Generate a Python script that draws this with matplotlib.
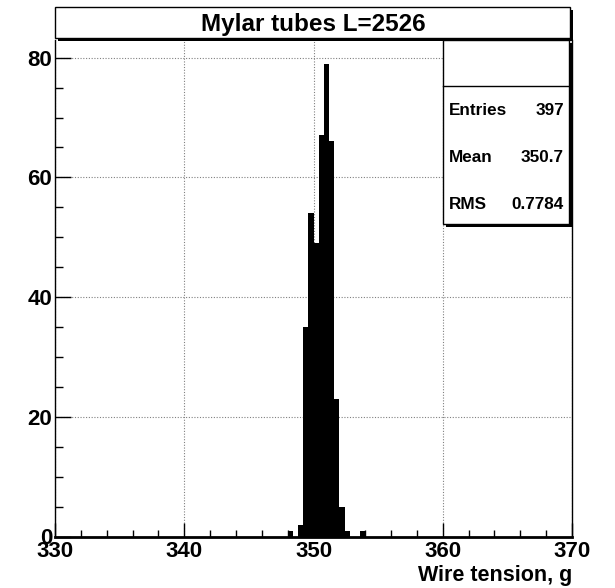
import matplotlib.pyplot as plt
from matplotlib.patches import Rectangle
from matplotlib.ticker import MultipleLocator

plt.rcParams['font.family'] = ['Liberation Sans', 'DejaVu Sans']
plt.rcParams['font.weight'] = 'bold'

# histogram contents (non-empty bins), bin width 0.4 g
bin_low = [348.0, 348.8, 349.2, 349.6, 350.0, 350.4, 350.8, 351.2, 351.6, 352.0, 352.4, 353.6]
counts = [1, 2, 35, 54, 49, 67, 79, 66, 23, 5, 1, 1]
bin_width = 0.4

title = "Mylar tubes L=2526"
xlabel = "Wire tension, g"
stats_names = ["Entries", "Mean", "RMS"]
stats_values = ["397", "350.7", "0.7784"]

W, H = 615, 588
fig = plt.figure(figsize=(W / 100, H / 100), dpi=100)
fig.patch.set_facecolor('white')


def fx(px):
    return px / W


def fy(py):
    return 1 - py / H


# plot area
ax = fig.add_axes([fx(55), fy(536.5), fx(572) - fx(55), fy(40) - fy(536.5)])
ax.bar(bin_low, counts, width=bin_width, align='edge', color='black', linewidth=0)
ax.set_xlim(330, 370)
ax.set_ylim(0, max(counts) * 1.05)

ax.xaxis.set_major_locator(MultipleLocator(10))
ax.xaxis.set_minor_locator(MultipleLocator(2))
ax.yaxis.set_major_locator(MultipleLocator(20))
ax.yaxis.set_minor_locator(MultipleLocator(5))
ax.tick_params(axis='x', which='major', direction='in', length=10, width=1, labelsize=16, pad=3)
ax.tick_params(axis='x', which='minor', direction='in', length=5, width=1)
ax.tick_params(axis='y', which='major', direction='in', length=11.5, width=1, labelsize=16, pad=2)
ax.tick_params(axis='y', which='minor', direction='in', length=5.5, width=1)

ax.grid(True, which='major', color='#808080', linewidth=0.8, linestyle=(0, (1, 1.5)))
ax.set_axisbelow(True)

ax.spines['top'].set_visible(False)
ax.spines['left'].set_linewidth(1)
ax.spines['bottom'].set_linewidth(2)
ax.spines['right'].set_linewidth(1)

ax.set_xlabel(xlabel, fontsize=15.5, fontweight='bold', ha='right', va='baseline')
ax.xaxis.set_label_coords(1.0, -45 / 496.5)


def box(x0, y0, x1, y1, shadow=3):
    fig.patches.append(Rectangle((fx(x0 + shadow), fy(y1 + shadow)), fx(x1) - fx(x0), fy(y0) - fy(y1),
                                 transform=fig.transFigure, facecolor='black', edgecolor='black',
                                 linewidth=0, zorder=5))
    fig.patches.append(Rectangle((fx(x0), fy(y1)), fx(x1) - fx(x0), fy(y0) - fy(y1),
                                 transform=fig.transFigure, facecolor='white', edgecolor='black',
                                 linewidth=1, zorder=6))


# title box
box(55, 7, 570, 38)
fig.text(fx(313), fy(30.7), title, ha='center', va='baseline', fontsize=17.5, zorder=7)

# stats box
box(443, 40, 569, 224)
fig.add_artist(plt.Line2D([fx(443), fx(569)], [fy(86), fy(86)], color='black', linewidth=1, zorder=7))
for i, (name, val) in enumerate(zip(stats_names, stats_values)):
    yb = 115.3 + i * 47
    fig.text(fx(449), fy(yb), name, ha='left', va='baseline', fontsize=12.3, zorder=7)
    fig.text(fx(564), fy(yb), val, ha='right', va='baseline', fontsize=12.3, zorder=7)

fig.savefig('out.png', dpi=100)
